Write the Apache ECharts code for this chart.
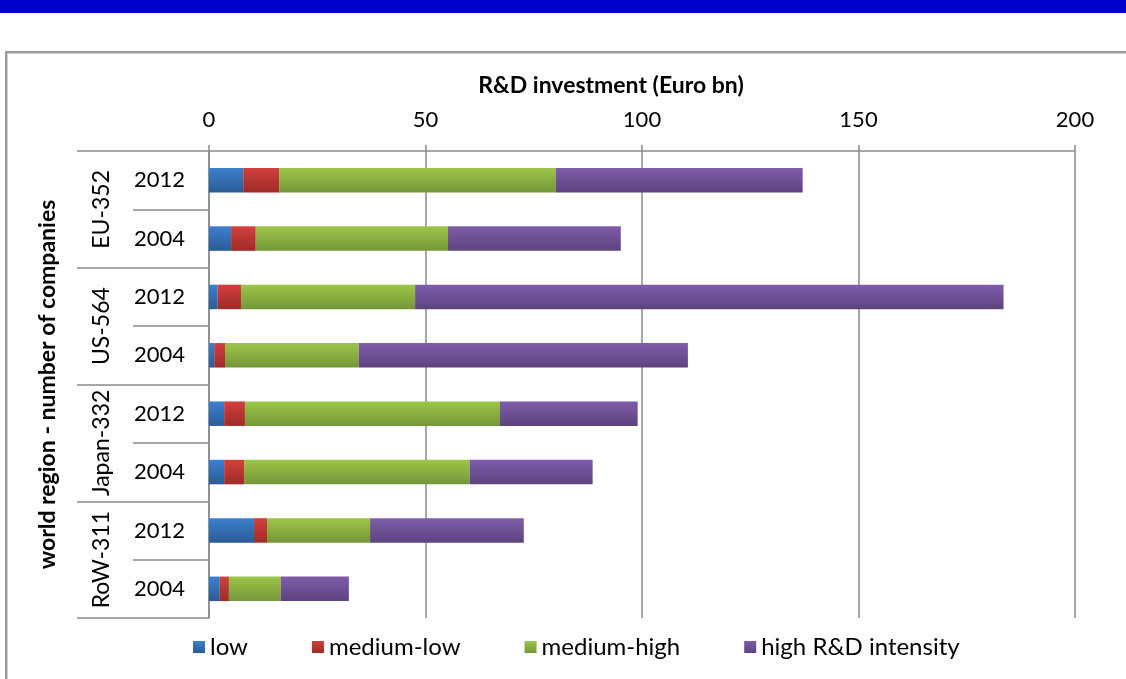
<!DOCTYPE html>
<html>
<head>
<meta charset="utf-8">
<script src="https://cdn.jsdelivr.net/npm/echarts@6/dist/echarts.min.js"></script>
<style>
html,body{margin:0;padding:0;background:#fff;overflow:hidden;}
#topbar{position:absolute;left:0;top:0;width:1126px;height:13px;background:#0000CC;}
#frame{position:absolute;left:5px;top:51px;width:1200px;height:700px;border-left:2px solid #9a9a9a;border-top:2px solid #9a9a9a;box-shadow:inset 1px 1px 0 #d0d0d0;}
#chart{position:absolute;left:0;top:0;width:1126px;height:679px;}
</style>
</head>
<body>
<div id="topbar"></div>
<div id="frame"></div>
<div id="chart"></div>
<script>
// categories (top to bottom)
const years = ['2012', '2004', '2012', '2004', '2012', '2004', '2012', '2004'];
const regions = ['EU-352', 'US-564', 'Japan-332', 'RoW-311'];
const seriesNames = ['low', 'medium-low', 'medium-high', 'high R&D intensity'];
// values (Euro bn), same order as years
const lowVals        = [7.9, 5.1, 2.0, 1.2, 3.5, 3.5, 10.4, 2.5];
const mediumLowVals  = [8.3, 5.7, 5.4, 2.5, 4.8, 4.6, 3.0, 2.1];
const mediumHighVals = [63.9, 44.4, 40.2, 30.9, 58.9, 52.1, 23.8, 12.0];
const highVals       = [57.0, 39.9, 135.9, 76.0, 31.8, 28.4, 35.5, 15.7];
const xTicks = [0, 50, 100, 150, 200];

const FONT = 'Lato, "Noto Sans", sans-serif';
function grad(top, bottom) {
  return new echarts.graphic.LinearGradient(0, 0, 0, 1, [
    {offset: 0, color: top}, {offset: 1, color: bottom}
  ]);
}
const colors = [
  grad('#3D80CE', '#2B5B95'),
  grad('#D2403C', '#9F2B28'),
  grad('#9DC548', '#75963A'),
  grad('#7F5CAB', '#5D437E')
];
const dataSets = [lowVals, mediumLowVals, mediumHighVals, highVals];
const gridColor = '#8a8a8a';

const chart = echarts.init(document.getElementById('chart'));
chart.setOption({
  animation: false,
  textStyle: {fontFamily: FONT},
  grid: {left: 209, right: 51, top: 151, bottom: 61, containLabel: false},
  legend: {
    data: seriesNames,
    left: 188,
    top: 630,
    itemWidth: 12,
    itemHeight: 12,
    itemGap: 64,
    icon: 'rect',
    textStyle: {fontSize: 24, color: '#000', fontFamily: FONT}
  },
  xAxis: {
    type: 'value',
    position: 'top',
    min: xTicks[0],
    max: xTicks[xTicks.length - 1],
    interval: 50,
    name: 'R&D investment (Euro bn)',
    nameLocation: 'middle',
    nameGap: 54,
    nameTextStyle: {fontSize: 23, fontWeight: 'bold', color: '#000', fontFamily: FONT, padding: [0, 62, 0, 0]},
    axisLine: {show: true, lineStyle: {color: gridColor, width: 1.5}},
    axisTick: {show: true, length: 6, lineStyle: {color: gridColor, width: 1.5}},
    axisLabel: {fontSize: 22, color: '#000', margin: 20, fontFamily: FONT},
    splitLine: {show: true, lineStyle: {color: gridColor, width: 1.5}}
  },
  yAxis: [
    {
      type: 'category',
      data: years,
      inverse: true,
      position: 'left',
      name: 'world region - number of companies',
      nameLocation: 'middle',
      nameGap: 150,
      nameTextStyle: {fontSize: 23, fontWeight: 'bold', color: '#000', fontFamily: FONT},
      axisLine: {show: true, lineStyle: {color: gridColor, width: 1.5}},
      axisTick: {show: true, length: 76, interval: 0, lineStyle: {color: gridColor, width: 1.5}},
      axisLabel: {fontSize: 22, color: '#000', margin: 24, fontFamily: FONT, interval: 0}
    },
    {
      type: 'category',
      data: regions,
      inverse: true,
      position: 'left',
      min: 0,
      max: regions.length - 1,
      axisLine: {show: false},
      axisTick: {show: true, length: 132, interval: 0, lineStyle: {color: gridColor, width: 1.5}},
      axisLabel: {fontSize: 23, color: '#000', margin: 96, rotate: 90, fontFamily: FONT, interval: 0},
      splitLine: {show: false}
    }
  ],
  series: seriesNames.map((name, i) => ({
    name: name,
    type: 'bar',
    stack: 'total',
    yAxisIndex: 0,
    barCategoryGap: '58%',
    itemStyle: {color: colors[i]},
    data: dataSets[i]
  }))
});
</script>
</body>
</html>
